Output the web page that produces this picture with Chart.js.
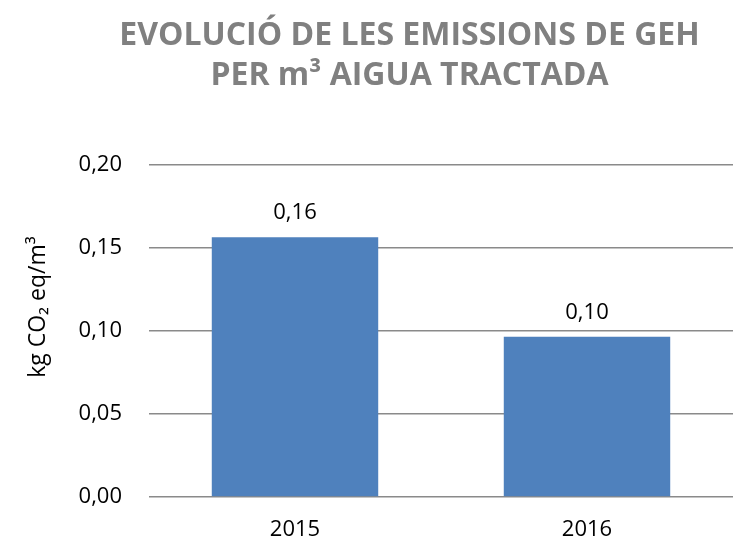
<!DOCTYPE html>
<html><head><meta charset="utf-8">
<script src="https://cdn.jsdelivr.net/npm/chart.js@4/dist/chart.umd.min.js"></script>
<style>html,body{margin:0;padding:0;background:#fff}#wrap{width:733px;height:544px}</style>
</head><body><div id="wrap"><canvas id="c" width="733" height="544"></canvas></div>
<script>
const categories = ['2015', '2016'];
const emissions = [0.1565, 0.0965];
const yTicks = [0, 0.05, 0.10, 0.15, 0.20];
const titleLines = ['EVOLUCIÓ DE LES EMISSIONS DE GEH', 'PER m³ AIGUA TRACTADA'];
const yTitle = 'kg CO₂ eq/m³';

const fmt = v => v.toFixed(2).replace('.', ',');

const decor = {
  id: 'decor',
  afterDatasetsDraw(chart) {
    const ctx = chart.ctx;
    const meta = chart.getDatasetMeta(0);
    ctx.save();
    ctx.textAlign = 'center';
    ctx.textBaseline = 'middle';
    ctx.font = '22px "Open Sans"';
    ctx.fillStyle = '#000';
    meta.data.forEach((bar, i) => ctx.fillText(fmt(emissions[i]), bar.x, bar.y - 24));
    ctx.font = 'bold 32px "Open Sans"';
    ctx.fillStyle = '#808080';
    ctx.fillText(titleLines[0], 409.5, 36);
    ctx.fillText(titleLines[1], 409.5, 76);
    ctx.translate(38, 307);
    ctx.rotate(-Math.PI / 2);
    ctx.font = '23px "Open Sans"';
    ctx.fillStyle = '#000';
    ctx.fillText(yTitle, 0, 0);
    ctx.restore();
  }
};

new Chart(document.getElementById('c'), {
  type: 'bar',
  data: {
    labels: categories,
    datasets: [{
      data: emissions,
      backgroundColor: '#4F81BD',
      borderWidth: 0,
      categoryPercentage: 1,
      barPercentage: 0.57
    }]
  },
  options: {
    responsive: false,
    animation: false,
    layout: { padding: { top: 165, right: -2, bottom: 0, left: 0 } },
    plugins: { legend: { display: false }, tooltip: { enabled: false }, title: { display: false } },
    scales: {
      x: {
        grid: { display: false },
        border: { display: false },
        afterFit: s => { s.height = 47; },
        ticks: { color: '#000', padding: 12, font: { family: 'Open Sans', size: 22 } }
      },
      y: {
        min: 0, max: 0.2,
        afterBuildTicks: s => { s.ticks = yTicks.map(v => ({ value: v })); },
        afterFit: s => { s.width = 149; },
        grid: { color: '#8a8a8a', lineWidth: 1.5, drawTicks: false },
        border: { display: false },
        ticks: { color: '#000', padding: 27, font: { family: 'Open Sans', size: 22 }, callback: v => fmt(v) }
      }
    }
  },
  plugins: [decor]
});
</script></body></html>
